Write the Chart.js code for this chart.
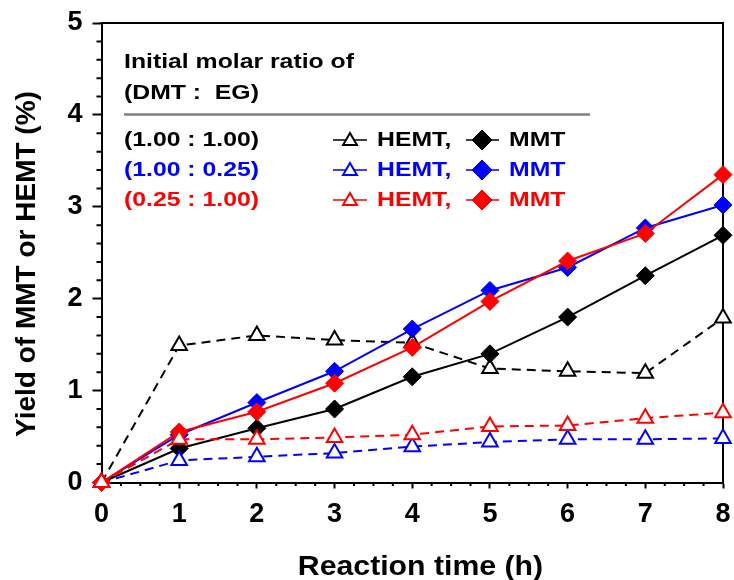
<!DOCTYPE html>
<html>
<head>
<meta charset="utf-8">
<script src="https://cdn.jsdelivr.net/npm/chart.js@4.4.1/dist/chart.umd.min.js"></script>
<style>
  html, body { margin: 0; padding: 0; background: #fff; }
</style>
</head>
<body>
<canvas id="myChart" width="734" height="580"></canvas>
<script>
// reaction time (h)
const hours = [0, 1, 2, 3, 4, 5, 6, 7, 8];

// yields (%) for each initial DMT : EG molar ratio
const hemt_100_100 = [0, 1.49, 1.60, 1.55, 1.52, 1.24, 1.21, 1.19, 1.79];
const mmt_100_100  = [0, 0.37, 0.59, 0.80, 1.15, 1.40, 1.80, 2.25, 2.69];
const hemt_100_025 = [0, 0.24, 0.28, 0.32, 0.39, 0.44, 0.47, 0.47, 0.48];
const mmt_100_025  = [0, 0.52, 0.87, 1.21, 1.67, 2.09, 2.34, 2.77, 3.02];
const hemt_025_100 = [0, 0.47, 0.47, 0.49, 0.52, 0.61, 0.62, 0.70, 0.76];
const mmt_025_100  = [0, 0.55, 0.77, 1.08, 1.47, 1.97, 2.41, 2.71, 3.35];

const ratioLabels = ['(1.00 : 1.00)', '(1.00 : 0.25)', '(0.25 : 1.00)'];
const ratioColors = ['#000000', '#0000ff', '#ff0000'];

const xTicks = [0, 1, 2, 3, 4, 5, 6, 7, 8];
const yTicks = [0, 1, 2, 3, 4, 5];

const FONT = '"Liberation Sans", Arial, Helvetica, sans-serif';

function pts(vals) {
  return vals.map((v, i) => ({ x: hours[i], y: v }));
}

function hemtSet(label, vals, color) {
  return {
    label: label,
    data: pts(vals),
    borderColor: color,
    borderWidth: 2,
    borderDash: [9, 6],
    pointStyle: 'triangle',
    pointRadius: 9,
    pointBorderWidth: 2,
    pointBorderColor: color,
    pointBackgroundColor: '#ffffff',
    clip: false
  };
}

function mmtSet(label, vals, color) {
  return {
    label: label,
    data: pts(vals),
    borderColor: color,
    borderWidth: 2,
    pointStyle: 'rectRot',
    pointRadius: 9,
    pointBorderWidth: 1,
    pointBorderColor: color,
    pointBackgroundColor: color,
    clip: false
  };
}

// first dataset ends up on top
const datasets = [
  hemtSet('HEMT ' + ratioLabels[2], hemt_025_100, ratioColors[2]),
  mmtSet('MMT ' + ratioLabels[2], mmt_025_100, ratioColors[2]),
  mmtSet('MMT ' + ratioLabels[1], mmt_100_025, ratioColors[1]),
  hemtSet('HEMT ' + ratioLabels[1], hemt_100_025, ratioColors[1]),
  mmtSet('MMT ' + ratioLabels[0], mmt_100_100, ratioColors[0]),
  hemtSet('HEMT ' + ratioLabels[0], hemt_100_100, ratioColors[0])
];

function wideText(ctx, text, x, y, sx) {
  ctx.save();
  ctx.translate(x, y);
  ctx.scale(sx, 1);
  ctx.fillText(text, 0, 0);
  ctx.restore();
}

const extras = {
  id: 'extras',
  beforeDatasetsDraw(chart) {
    const ctx = chart.ctx;
    const a = chart.chartArea;
    const xs = chart.scales.x;
    const ys = chart.scales.y;
    ctx.save();
    ctx.strokeStyle = '#000';
    ctx.lineWidth = 2;
    // box on top and right
    ctx.beginPath();
    ctx.moveTo(a.left - 1, a.top);
    ctx.lineTo(a.right, a.top);
    ctx.lineTo(a.right, a.bottom);
    ctx.stroke();
    // minor ticks
    ctx.beginPath();
    for (let i = 1; i < 32; i++) {
      if (i % 4 === 0) continue;
      const px = xs.getPixelForValue(i / 4);
      ctx.moveTo(px, a.bottom);
      ctx.lineTo(px, a.bottom + 3.5);
    }
    for (let i = 1; i < 25; i++) {
      if (i % 5 === 0) continue;
      const py = ys.getPixelForValue(i / 5);
      ctx.moveTo(a.left, py);
      ctx.lineTo(a.left - 5, py);
    }
    ctx.stroke();
    ctx.restore();
  },
  afterDraw(chart) {
    const ctx = chart.ctx;
    const h = Chart.helpers;
    ctx.save();

    // axis titles
    ctx.fillStyle = '#000';
    ctx.font = 'bold 28px ' + FONT;
    ctx.textAlign = 'center';
    ctx.textBaseline = 'alphabetic';
    wideText(ctx, 'Reaction time (h)', 420.5, 575, 1.08);
    ctx.save();
    ctx.translate(35, 264);
    ctx.rotate(-Math.PI / 2);
    ctx.fillText('Yield of MMT or HEMT (%)', 0, 0);
    ctx.restore();

    // legend block
    const sx = 1.18;
    ctx.font = 'bold 21px ' + FONT;
    ctx.textAlign = 'left';
    ctx.textBaseline = 'middle';
    wideText(ctx, 'Initial molar ratio of', 124, 62, sx);
    wideText(ctx, '(DMT :  EG)', 124, 93, sx);

    ctx.strokeStyle = '#808080';
    ctx.lineWidth = 2.5;
    ctx.beginPath();
    ctx.moveTo(124, 114.5);
    ctx.lineTo(590, 114.5);
    ctx.stroke();

    const rowY = [140, 170, 200];
    for (let i = 0; i < 3; i++) {
      const c = ratioColors[i];
      const y = rowY[i];
      ctx.fillStyle = c;
      ctx.strokeStyle = c;
      wideText(ctx, ratioLabels[i], 124, y, sx);

      ctx.lineWidth = 1.5;
      ctx.beginPath();
      ctx.moveTo(333, y);
      ctx.lineTo(367, y);
      ctx.moveTo(466, y);
      ctx.lineTo(499, y);
      ctx.stroke();

      ctx.fillStyle = '#fff';
      ctx.lineWidth = 2;
      h.drawPoint(ctx, { pointStyle: 'triangle', radius: 8, rotation: 0, borderWidth: 2 }, 350, y + 1);
      ctx.fillStyle = c;
      ctx.lineWidth = 1;
      h.drawPoint(ctx, { pointStyle: 'rectRot', radius: 10, rotation: 0, borderWidth: 1 }, 482, y);

      ctx.fillStyle = c;
      wideText(ctx, 'HEMT,', 377, y, sx);
      wideText(ctx, 'MMT', 509, y, sx);
    }
    ctx.restore();
  }
};

const ctx = document.getElementById('myChart');

new Chart(ctx, {
  type: 'line',
  data: { datasets: datasets },
  options: {
    responsive: false,
    animation: false,
    devicePixelRatio: 1,
    layout: { padding: { left: 0, top: 23, right: 8.5, bottom: 0 } },
    plugins: {
      legend: { display: false },
      tooltip: { enabled: false }
    },
    scales: {
      x: {
        type: 'linear',
        min: 0,
        max: 8,
        afterFit: (s) => { s.height = 97.5; s.paddingLeft = 0; s.paddingRight = 0; },
        afterBuildTicks: (s) => { s.ticks = xTicks.map(v => ({ value: v })); },
        ticks: {
          color: '#000',
          padding: 10,
          maxRotation: 0,
          font: { family: FONT, size: 27, weight: 'bold' }
        },
        grid: { drawOnChartArea: false, drawTicks: true, tickLength: 6, tickWidth: 2, tickColor: '#000' },
        border: { display: true, color: '#000', width: 2 }
      },
      y: {
        min: 0,
        max: 5,
        afterFit: (s) => { s.width = 101.5; s.paddingTop = 0; s.paddingBottom = 0; },
        afterBuildTicks: (s) => { s.ticks = yTicks.map(v => ({ value: v })); },
        ticks: {
          color: '#000',
          padding: 10,
          font: { family: FONT, size: 27, weight: 'bold' }
        },
        grid: { drawOnChartArea: false, drawTicks: true, tickLength: 9, tickWidth: 2, tickColor: '#000' },
        border: { display: true, color: '#000', width: 2 }
      }
    }
  },
  plugins: [extras]
});
</script>
</body>
</html>
